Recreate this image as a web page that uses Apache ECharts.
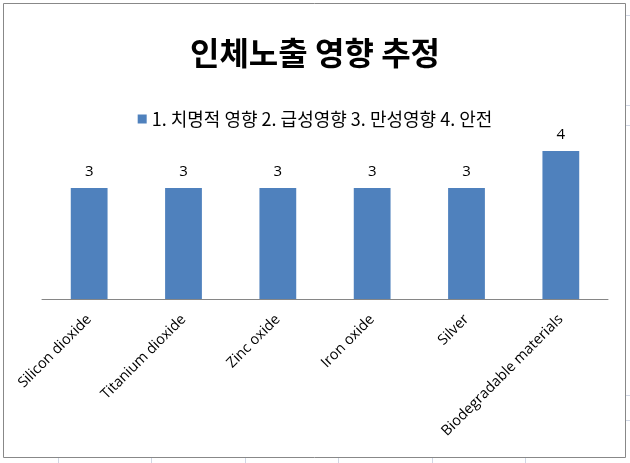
<!DOCTYPE html>
<html><head><meta charset="utf-8">
<script src="https://cdn.jsdelivr.net/npm/echarts@6/dist/echarts.min.js"></script>
<style>html,body{margin:0;padding:0;background:#fff}#c{width:630px;height:463px}</style>
</head><body><div id="c"></div>
<script>
const categories = ['Silicon dioxide','Titanium dioxide','Zinc oxide','Iron oxide','Silver','Biodegradable materials'];
const values = [3,3,3,3,3,4];
const seriesName = '1. 치명적 영향 2. 급성영향 3. 만성영향 4. 안전';
const titleText = '인체노출 영향 추정';

const chart = echarts.init(document.getElementById('c'), null, {renderer:'canvas'});
const gridLines = [];
[58,151,245,338,432,525].forEach(x=>gridLines.push({type:'line',shape:{x1:x+0.5,y1:458,x2:x+0.5,y2:463},style:{stroke:'#d0d7e5',lineWidth:1},silent:true}));
[15,105,125,395,420].forEach(y=>gridLines.push({type:'line',shape:{x1:626,y1:y+0.5,x2:630,y2:y+0.5},style:{stroke:'#d0d7e5',lineWidth:1},silent:true}));
chart.setOption({
  backgroundColor:'#fff',
  animation:false,
  title:{text:titleText,left:'center',top:32,textStyle:{fontFamily:'Noto Sans CJK KR',fontSize:32,fontWeight:'bold',color:'#000'}},
  legend:{top:105,left:'center',itemWidth:9,itemHeight:9,itemGap:4,icon:'rect',
    textStyle:{fontFamily:'Noto Sans CJK KR',fontSize:18,color:'#000'}},
  grid:{left:42,right:22,top:114,height:185,containLabel:false},
  xAxis:{type:'category',data:categories,
    axisLine:{lineStyle:{color:'#868686',width:1}},
    axisTick:{show:false},
    axisLabel:{rotate:45,interval:0,margin:18,fontFamily:'Open Sans',fontSize:14.5,color:'#000'}},
  yAxis:{type:'value',min:0,max:5,show:false,splitLine:{show:false}},
  series:[{name:seriesName,type:'bar',data:values,barWidth:'39%',
    itemStyle:{color:'#4F81BD'},
    label:{show:true,position:'top',distance:9,fontFamily:'Open Sans',fontSize:15,color:'#000'}}],
  graphic:[{type:'rect',shape:{x:3.5,y:3.5,width:622,height:454},style:{fill:'none',stroke:'#888',lineWidth:1},silent:true}].concat(gridLines)
});
</script></body></html>
